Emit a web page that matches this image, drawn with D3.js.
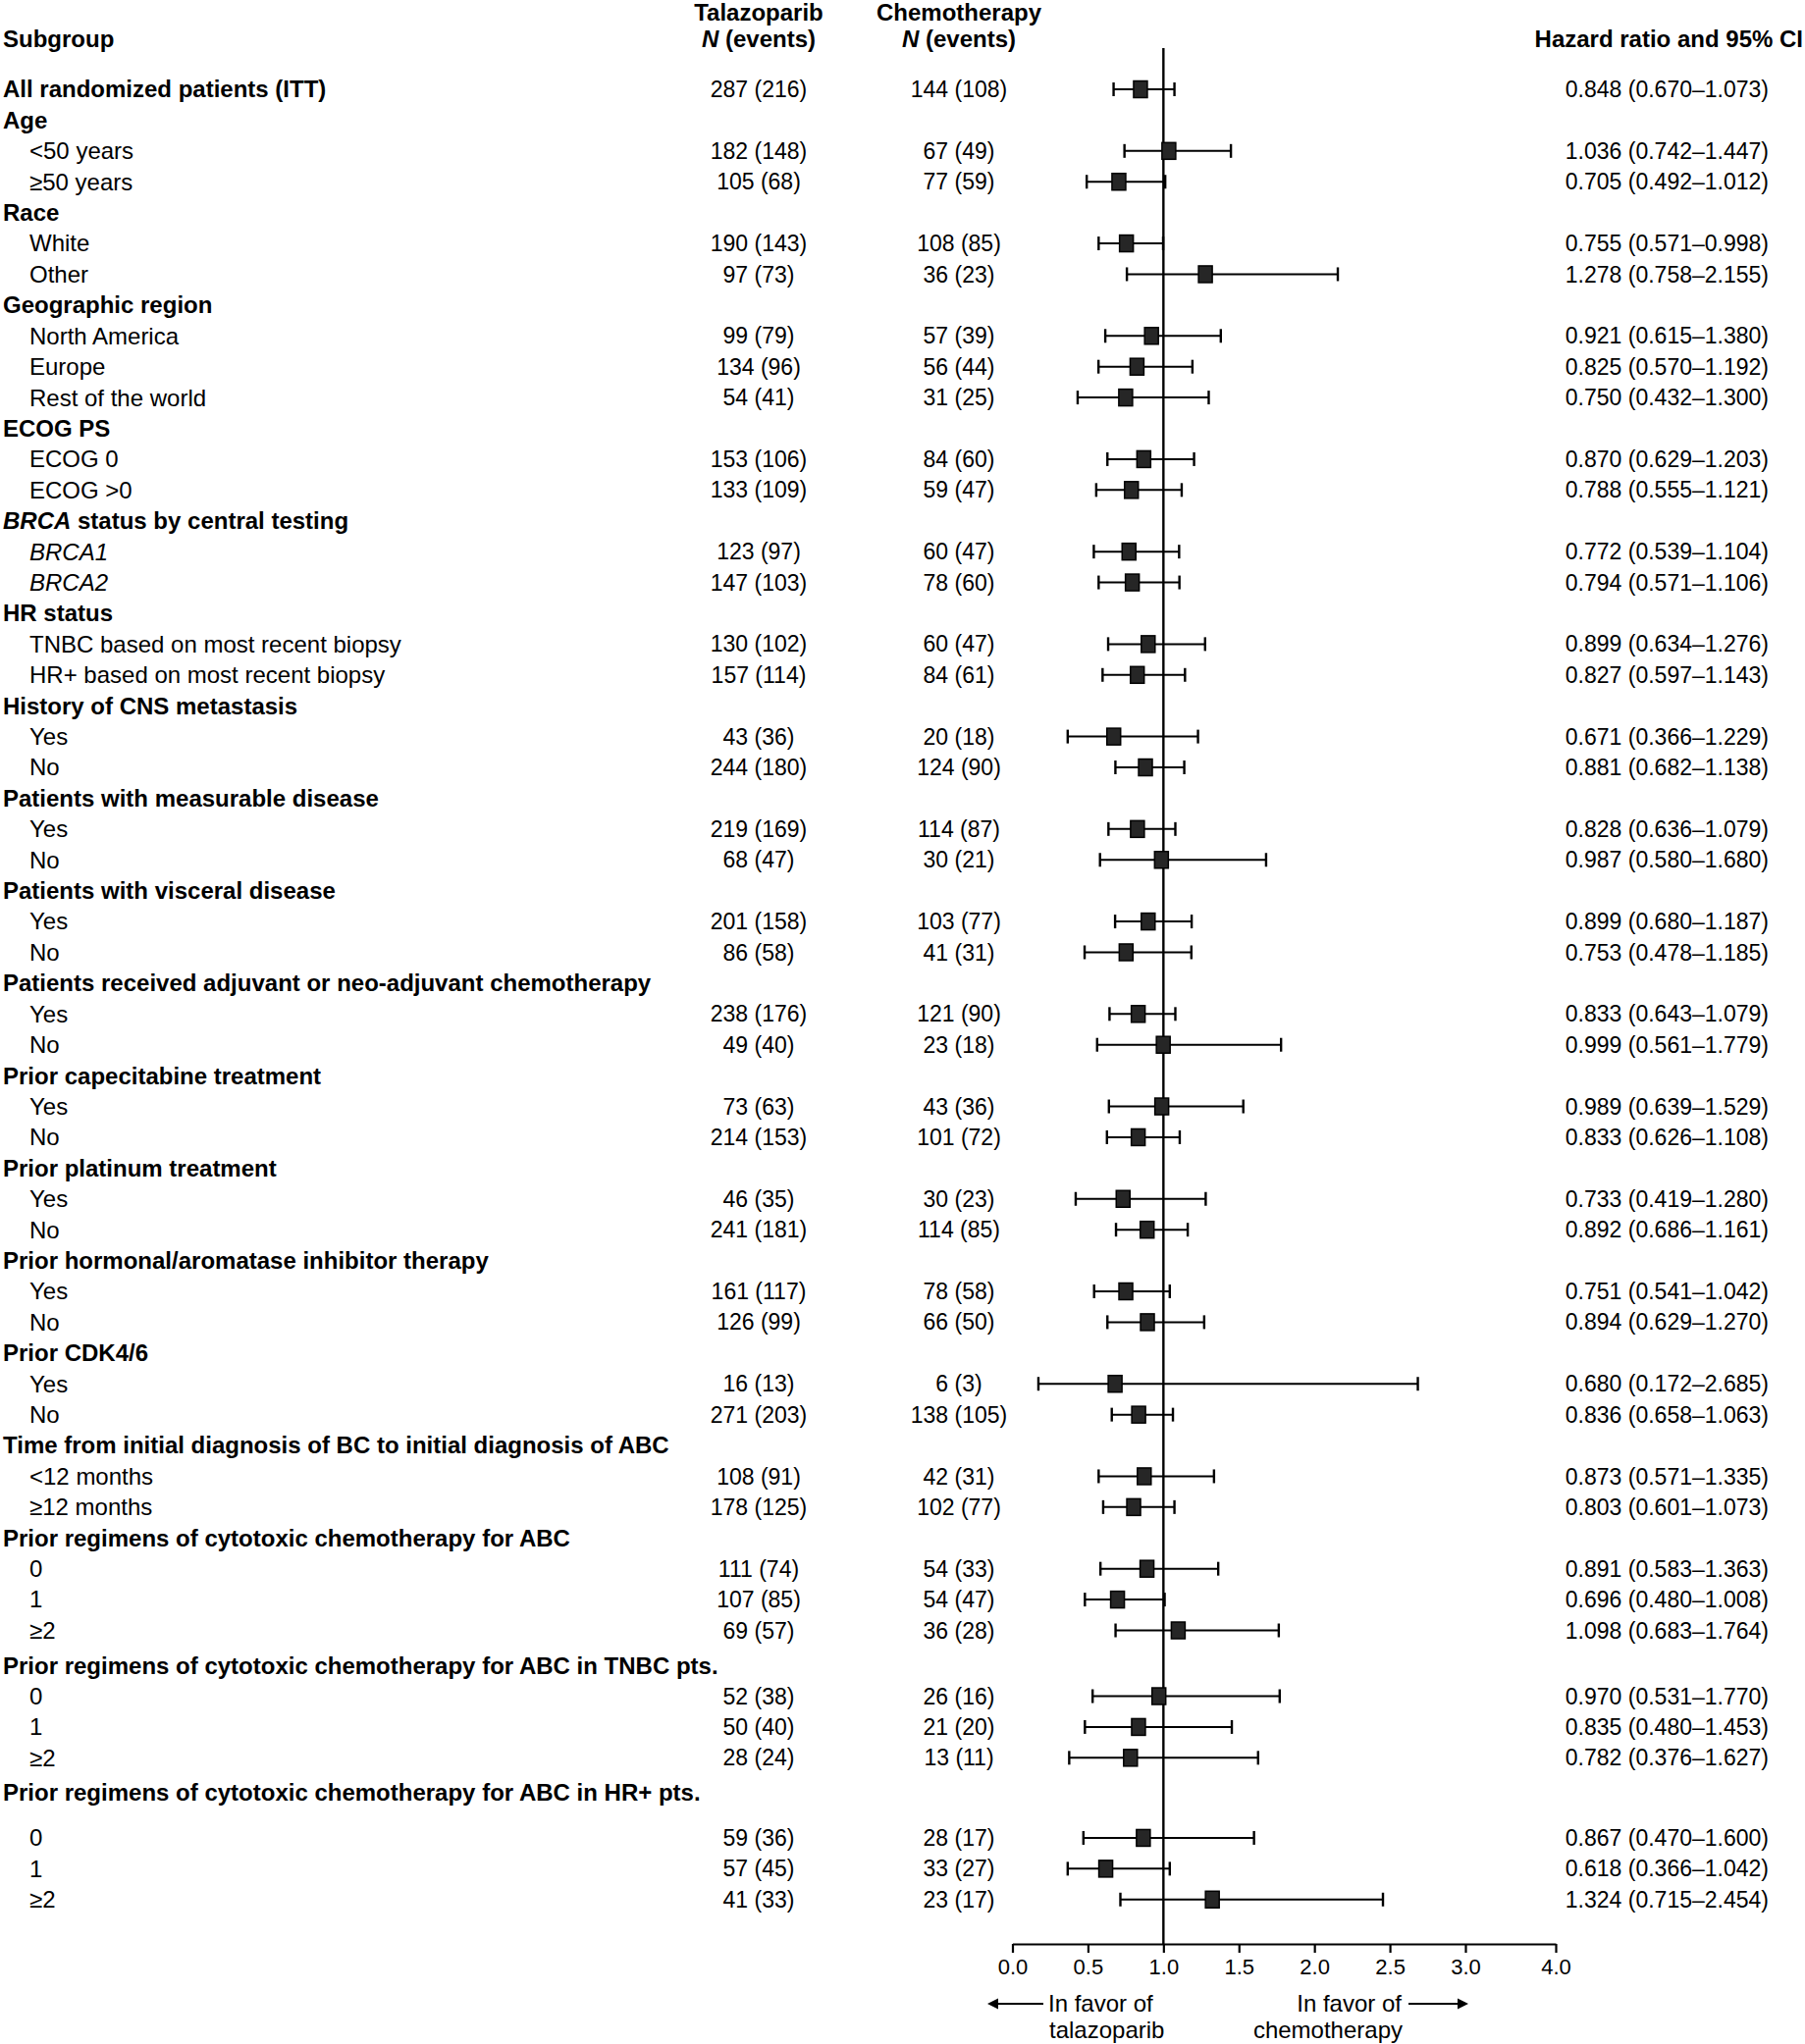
<!DOCTYPE html>
<html>
<head>
<meta charset="utf-8">
<script src="https://cdn.jsdelivr.net/npm/d3@7"></script>
<style>
  html, body { margin: 0; padding: 0; background: #fff; }
  svg { display: block; }
  text { font-family: "Liberation Sans", Arial, Helvetica, sans-serif; fill: #000; }
</style>
</head>
<body>
<svg id="chart" width="1839" height="2083"></svg>
<script>
// ---------------- DATA ----------------
const labels = [
  "All randomized patients (ITT)", "Age", "<50 years", "\u226550 years",
  "Race", "White", "Other",
  "Geographic region", "North America", "Europe", "Rest of the world",
  "ECOG PS", "ECOG 0", "ECOG >0",
  "BRCA status by central testing", "BRCA1", "BRCA2",
  "HR status", "TNBC based on most recent biopsy", "HR+ based on most recent biopsy",
  "History of CNS metastasis", "Yes", "No",
  "Patients with measurable disease", "Yes", "No",
  "Patients with visceral disease", "Yes", "No",
  "Patients received adjuvant or neo-adjuvant chemotherapy", "Yes", "No",
  "Prior capecitabine treatment", "Yes", "No",
  "Prior platinum treatment", "Yes", "No",
  "Prior hormonal/aromatase inhibitor therapy", "Yes", "No",
  "Prior CDK4/6", "Yes", "No",
  "Time from initial diagnosis of BC to initial diagnosis of ABC", "<12 months", "\u226512 months",
  "Prior regimens of cytotoxic chemotherapy for ABC", "0", "1", "\u22652",
  "Prior regimens of cytotoxic chemotherapy for ABC in TNBC pts.", "0", "1", "\u22652",
  "Prior regimens of cytotoxic chemotherapy for ABC in HR+ pts.", "0", "1", "\u22652"
];
// t = total row (bold, with data), h = group header, s = subgroup row, i = italic subgroup row
const rowKinds = [
  "t","h","s","s","h","s","s","h","s","s","s","h","s","s","h","i","i","h","s","s",
  "h","s","s","h","s","s","h","s","s","h","s","s","h","s","s","h","s","s","h","s","s",
  "h","s","s","h","s","s","h","s","s","s","h","s","s","s","h","s","s","s"
];
const talazoparibN = [287,null,182,105,null,190,97,null,99,134,54,null,153,133,null,123,147,null,130,157,null,43,244,null,219,68,null,201,86,null,238,49,null,73,214,null,46,241,null,161,126,null,16,271,null,108,178,null,111,107,69,null,52,50,28,null,59,57,41];
const talazoparibEvents = [216,null,148,68,null,143,73,null,79,96,41,null,106,109,null,97,103,null,102,114,null,36,180,null,169,47,null,158,58,null,176,40,null,63,153,null,35,181,null,117,99,null,13,203,null,91,125,null,74,85,57,null,38,40,24,null,36,45,33];
const chemoN = [144,null,67,77,null,108,36,null,57,56,31,null,84,59,null,60,78,null,60,84,null,20,124,null,114,30,null,103,41,null,121,23,null,43,101,null,30,114,null,78,66,null,6,138,null,42,102,null,54,54,36,null,26,21,13,null,28,33,23];
const chemoEvents = [108,null,49,59,null,85,23,null,39,44,25,null,60,47,null,47,60,null,47,61,null,18,90,null,87,21,null,77,31,null,90,18,null,36,72,null,23,85,null,58,50,null,3,105,null,31,77,null,33,47,28,null,16,20,11,null,17,27,17];
const hazardRatio = [0.848,null,1.036,0.705,null,0.755,1.278,null,0.921,0.825,0.750,null,0.870,0.788,null,0.772,0.794,null,0.899,0.827,null,0.671,0.881,null,0.828,0.987,null,0.899,0.753,null,0.833,0.999,null,0.989,0.833,null,0.733,0.892,null,0.751,0.894,null,0.680,0.836,null,0.873,0.803,null,0.891,0.696,1.098,null,0.970,0.835,0.782,null,0.867,0.618,1.324];
const ciLower = [0.670,null,0.742,0.492,null,0.571,0.758,null,0.615,0.570,0.432,null,0.629,0.555,null,0.539,0.571,null,0.634,0.597,null,0.366,0.682,null,0.636,0.580,null,0.680,0.478,null,0.643,0.561,null,0.639,0.626,null,0.419,0.686,null,0.541,0.629,null,0.172,0.658,null,0.571,0.601,null,0.583,0.480,0.683,null,0.531,0.480,0.376,null,0.470,0.366,0.715];
const ciUpper = [1.073,null,1.447,1.012,null,0.998,2.155,null,1.380,1.192,1.300,null,1.203,1.121,null,1.104,1.106,null,1.276,1.143,null,1.229,1.138,null,1.079,1.680,null,1.187,1.185,null,1.079,1.779,null,1.529,1.108,null,1.280,1.161,null,1.042,1.270,null,2.685,1.063,null,1.335,1.073,null,1.363,1.008,1.764,null,1.770,1.453,1.627,null,1.600,1.042,2.454];
const axisTicks = [0, 0.5, 1.0, 1.5, 2.0, 2.5, 3.0, 4.0];
const favorLeft = ["In favor of", "talazoparib"];
const favorRight = ["In favor of", "chemotherapy"];

// ---------------- LAYOUT ----------------
const svg = d3.select("#chart");
const W = 1839, H = 2083;
svg.append("rect").attr("width", W).attr("height", H).attr("fill", "#fff");

// extra vertical space (in pixels) before some rows
const extraBefore = new Map([[51, 4.2], [55, 4.2], [56, 14.6]]);
const rowStep = 31.41;
let acc = 0;
const slot = labels.map((d, i) => { acc += (extraBefore.get(i) || 0) / rowStep; return i + acc; });
const y = d3.scaleLinear().domain([0, 1]).range([91, 91 + rowStep]);

// piecewise linear x: 0..3 uniform, last tick 4.0 compressed
const x = d3.scaleLinear().domain([0, 3, 4]).range([1031.5, 1493, 1585]);

const FS = 24, FSN = 23;
const colTal = 773, colChe = 977, colHR = 1802;

// header
const hdr = svg.append("g").attr("font-weight", "bold").attr("font-size", FS);
hdr.append("text").attr("x", 3).attr("y", 40).attr("dy", "0.35em").text("Subgroup");
hdr.append("text").attr("x", colTal).attr("y", 13).attr("dy", "0.35em").attr("text-anchor", "middle").text("Talazoparib");
hdr.append("text").attr("x", colChe).attr("y", 13).attr("dy", "0.35em").attr("text-anchor", "middle").text("Chemotherapy");
[colTal, colChe].forEach(cx => {
  const t = hdr.append("text").attr("x", cx).attr("y", 40).attr("dy", "0.35em").attr("text-anchor", "middle");
  t.append("tspan").attr("font-style", "italic").text("N");
  t.append("tspan").text(" (events)");
});
hdr.append("text").attr("x", 1837).attr("y", 40).attr("dy", "0.35em").attr("text-anchor", "end").text("Hazard ratio and 95% CI");

// row labels
const rows = svg.append("g").attr("font-size", FS);
labels.forEach((lab, i) => {
  const k = rowKinds[i];
  const bold = (k === "h" || k === "t");
  const t = rows.append("text")
    .attr("x", bold ? 3 : 30)
    .attr("y", y(slot[i]))
    .attr("dy", "0.35em")
    .attr("font-weight", bold ? "bold" : "normal")
    .attr("font-style", k === "i" ? "italic" : "normal");
  if (lab.startsWith("BRCA status")) {
    t.append("tspan").attr("font-style", "italic").text("BRCA");
    t.append("tspan").text(lab.slice(4));
  } else {
    t.text(lab);
  }
});

// numeric columns
const fmt3 = d3.format(".3f");
const nums = svg.append("g").attr("font-size", FSN);
labels.forEach((lab, i) => {
  if (hazardRatio[i] == null) return;
  const yy = y(slot[i]);
  nums.append("text").attr("x", colTal).attr("y", yy).attr("dy", "0.35em").attr("text-anchor", "middle")
    .text(`${talazoparibN[i]} (${talazoparibEvents[i]})`);
  nums.append("text").attr("x", colChe).attr("y", yy).attr("dy", "0.35em").attr("text-anchor", "middle")
    .text(`${chemoN[i]} (${chemoEvents[i]})`);
  nums.append("text").attr("x", colHR).attr("y", yy).attr("dy", "0.35em").attr("text-anchor", "end")
    .text(`${fmt3(hazardRatio[i])} (${fmt3(ciLower[i])}\u2013${fmt3(ciUpper[i])})`);
});

// axis
const axisY = 1981;
const axisG = svg.append("g").attr("transform", `translate(0,${axisY})`)
  .call(d3.axisBottom(x).tickValues(axisTicks).tickFormat(d3.format(".1f")).tickSize(9).tickSizeOuter(0).tickPadding(6));
axisG.select(".domain").attr("stroke", "#000").attr("stroke-width", 2.2);
axisG.selectAll(".tick line").attr("stroke", "#000").attr("stroke-width", 2.2);
axisG.selectAll(".tick text").attr("font-size", 22).attr("fill", "#000")
  .attr("font-family", "'Liberation Sans', Arial, sans-serif");

// reference line at HR = 1
svg.append("line").attr("x1", x(1)).attr("x2", x(1)).attr("y1", 49).attr("y2", axisY)
  .attr("stroke", "#000").attr("stroke-width", 2.4);

// forest marks
const marks = svg.append("g");
const capH = 7, sqW = 14, sqH = 17;
labels.forEach((lab, i) => {
  if (hazardRatio[i] == null) return;
  const yy = y(slot[i]);
  const g = marks.append("g").attr("stroke", "#000").attr("stroke-width", 2);
  g.append("line").attr("x1", x(ciLower[i])).attr("x2", x(ciUpper[i])).attr("y1", yy).attr("y2", yy);
  g.append("line").attr("x1", x(ciLower[i])).attr("x2", x(ciLower[i])).attr("y1", yy - capH).attr("y2", yy + capH).attr("stroke-width", 2.4);
  g.append("line").attr("x1", x(ciUpper[i])).attr("x2", x(ciUpper[i])).attr("y1", yy - capH).attr("y2", yy + capH).attr("stroke-width", 2.4);
  g.append("rect").attr("x", x(hazardRatio[i]) - sqW / 2).attr("y", yy - sqH / 2)
    .attr("width", sqW).attr("height", sqH).attr("fill", "#262626").attr("stroke-width", 1.5);
});

// favour annotations
const ann = svg.append("g").attr("font-size", FS);
ann.append("text").attr("x", 1068).attr("y", 2042).attr("dy", "0.35em").text(favorLeft[0]);
ann.append("text").attr("x", 1069).attr("y", 2069).attr("dy", "0.35em").text(favorLeft[1]);
ann.append("text").attr("x", 1428).attr("y", 2042).attr("dy", "0.35em").attr("text-anchor", "end").text(favorRight[0]);
ann.append("text").attr("x", 1429).attr("y", 2069).attr("dy", "0.35em").attr("text-anchor", "end").text(favorRight[1]);
// arrows
function arrow(x1, x2, yy) {
  const dir = Math.sign(x2 - x1);
  svg.append("line").attr("x1", x1).attr("x2", x2 - dir * 8).attr("y1", yy).attr("y2", yy)
    .attr("stroke", "#000").attr("stroke-width", 2.2);
  svg.append("path").attr("d", `M${x2},${yy} L${x2 - dir * 11},${yy - 5.5} L${x2 - dir * 11},${yy + 5.5} Z`).attr("fill", "#000");
}
arrow(1063, 1006, 2042);
arrow(1435, 1496, 2042);
</script>
</body>
</html>
